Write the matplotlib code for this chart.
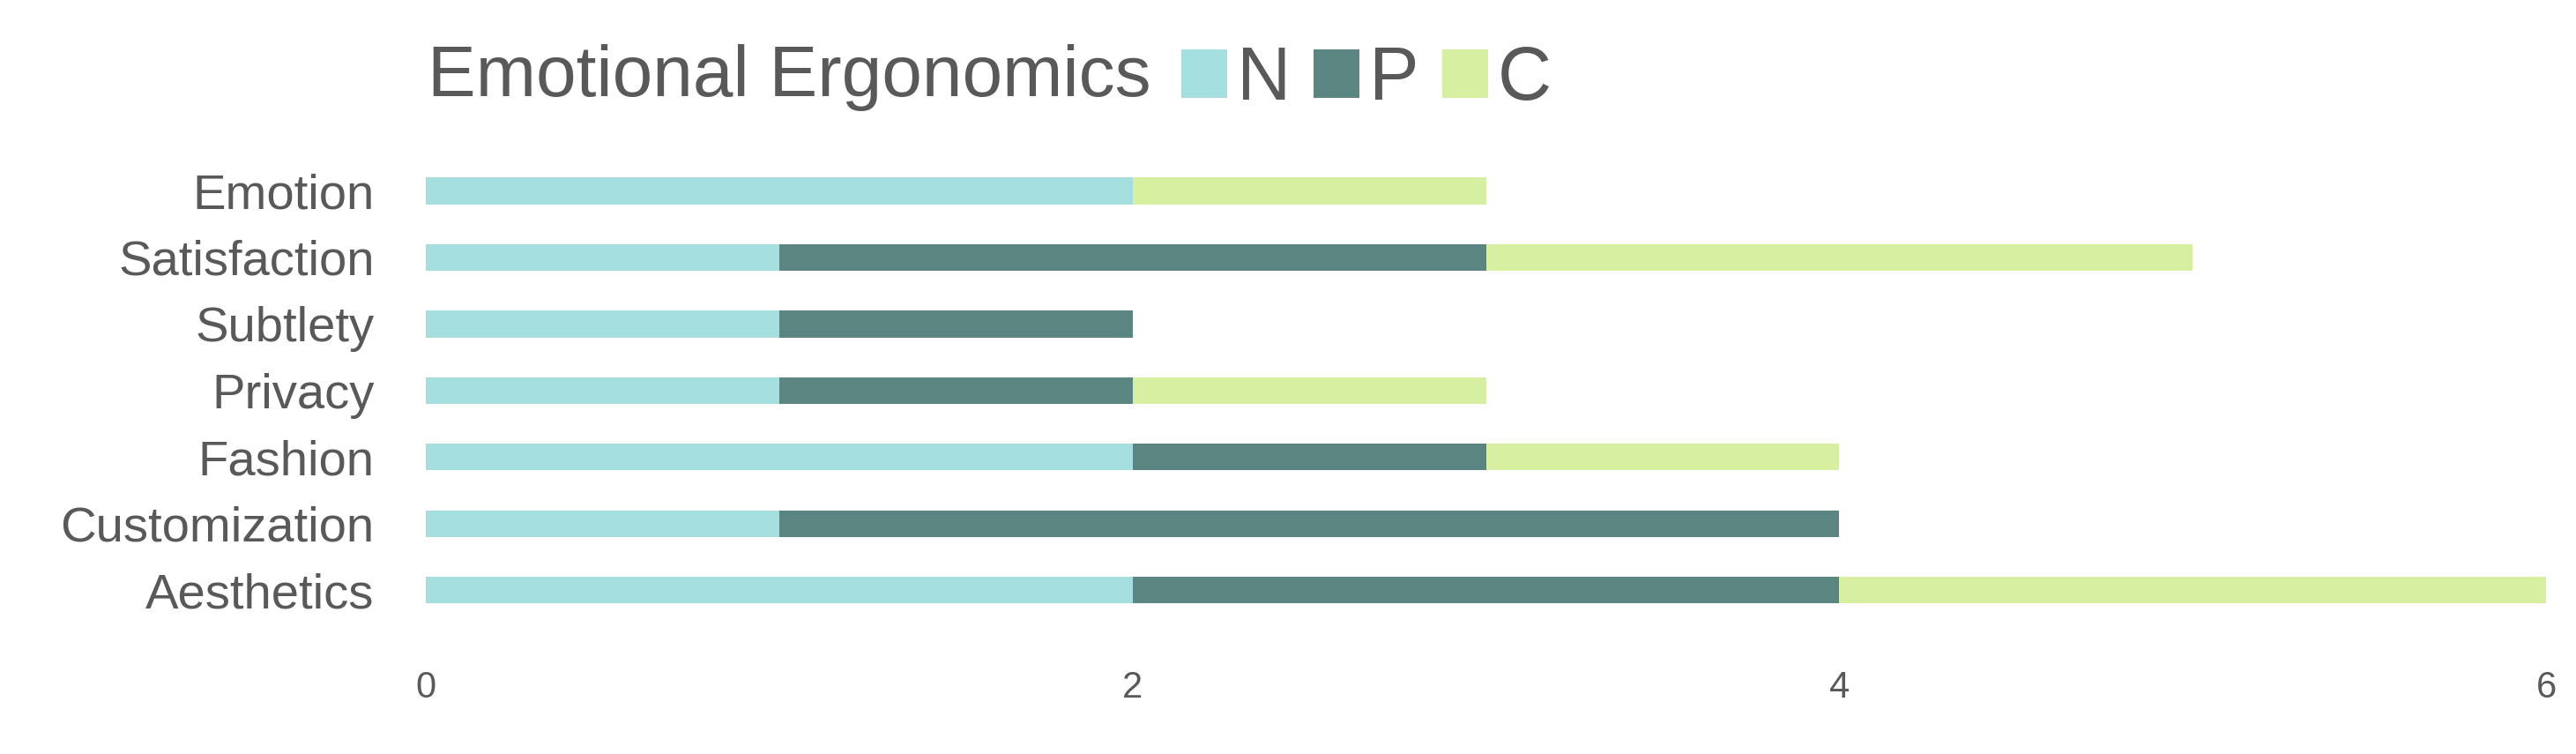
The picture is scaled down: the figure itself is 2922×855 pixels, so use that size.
import matplotlib
matplotlib.use("Agg")
import matplotlib.pyplot as plt
import numpy as np

categories = ["Aesthetics", "Customization", "Fashion", "Privacy", "Subtlety", "Satisfaction", "Emotion"]
series_names = ["N", "P", "C"]
N_vals = [2, 1, 2, 1, 1, 1, 2]
P_vals = [2, 3, 1, 1, 1, 2, 0]
C_vals = [2, 0, 1, 1, 0, 2, 1]
x_ticks = [0, 2, 4, 6]
title = "Emotional Ergonomics"

colors = ["#a5dede", "#5a8580", "#d7efa0"]
text_color = "#595959"

plt.rcParams['font.family'] = ['Liberation Sans', 'DejaVu Sans']

fig = plt.figure(figsize=(29.22, 8.55), dpi=100)
ax = fig.add_axes([0.1653, 0.173, 0.8231, 0.618])

y = np.arange(len(categories))
left = np.zeros(len(categories))
handles = []
for name, vals, col in zip(series_names, [N_vals, P_vals, C_vals], colors):
    h = ax.barh(y, vals, left=left, height=0.4, color=col, label=name, linewidth=0)
    handles.append(h)
    left = left + np.array(vals)

ax.set_xlim(0, 6)
ax.set_ylim(-0.5, 6.5)
ax.set_yticks(y)
ax.set_yticklabels(categories, fontsize=40.5, color=text_color)
ax.set_xticks(x_ticks)
ax.set_xticklabels([str(t) for t in x_ticks], fontsize=30, color=text_color)
ax.tick_params(axis='y', length=0, pad=42)
ax.tick_params(axis='x', length=0, pad=38)
for s in ax.spines.values():
    s.set_visible(False)

fig.text(0.166, 0.897, title, fontsize=59, color=text_color, ha='left', va='center')

leg = fig.legend(handles=handles, labels=series_names, ncol=3, frameon=False,
                 loc='center left', bbox_to_anchor=(0.4585, 0.893),
                 fontsize=61, handlelength=0.62, handleheight=0.62,
                 handletextpad=0.13, columnspacing=0.3, borderpad=0, borderaxespad=0)
for t in leg.get_texts():
    t.set_color(text_color)

fig.savefig("out.png", dpi=100)
